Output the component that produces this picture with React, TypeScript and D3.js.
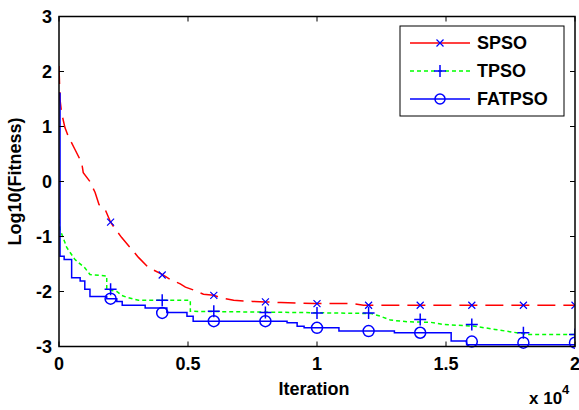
import React from "react";
import * as d3 from "d3";

// iteration (raw), log10(fitness)
const spsoLine: [number, number][] = [
  [0, 2.1], [40, 1.49], [100, 1.25], [230, 0.98], [360, 0.82], [600, 0.6],
  [880, 0.34], [940, 0.16], [1200, 0], [1400, -0.2], [1550, -0.42], [1790, -0.51],
  [2000, -0.74], [2100, -0.81], [2430, -1.02], [3080, -1.38], [3460, -1.56],
  [4000, -1.69], [4310, -1.78], [4700, -1.86], [4900, -1.92], [5200, -1.97],
  [5600, -2.05], [6000, -2.07], [6250, -2.11], [6770, -2.16], [7500, -2.18],
  [8000, -2.19], [8600, -2.2], [9900, -2.22], [11400, -2.22], [11800, -2.25],
  [20000, -2.25],
];

const tpsoLine: [number, number][] = [
  [0, -0.69], [40, -0.87], [230, -1.11], [300, -1.2], [620, -1.42], [1000, -1.57],
  [1200, -1.69], [1850, -1.72], [1850, -1.96], [2240, -2.0], [2430, -2.07],
  [2600, -2.1], [3080, -2.16], [5090, -2.16], [5090, -2.36], [9000, -2.38],
  [12100, -2.4], [12460, -2.45], [12850, -2.52], [13500, -2.55], [14400, -2.56],
  [14900, -2.6], [16100, -2.63], [16900, -2.69], [17600, -2.74], [18200, -2.78],
  [20000, -2.78],
];

// step changes (stepAfter)
const fatpsoSteps: [number, number][] = [
  [0, 1.6], [40, -1.36], [200, -1.42], [490, -1.75], [820, -1.81], [1000, -1.96],
  [1200, -2.09], [1850, -2.13], [2240, -2.18], [2450, -2.25], [3340, -2.3],
  [4180, -2.38], [4960, -2.45], [5200, -2.54], [8840, -2.57], [9230, -2.63],
  [9500, -2.66], [10850, -2.72], [13000, -2.75], [15200, -2.9], [15800, -2.97],
  [20000, -2.97],
];

const markerIters = [2000, 4000, 6000, 8000, 10000, 12000, 14000, 16000, 18000, 20000];
const spsoMarks = [-0.74, -1.7, -2.07, -2.19, -2.22, -2.25, -2.25, -2.25, -2.25, -2.25];
const tpsoMarks = [-1.96, -2.16, -2.36, -2.38, -2.39, -2.39, -2.51, -2.6, -2.75, -2.78];
const fatpsoMarks = [-2.13, -2.39, -2.54, -2.54, -2.66, -2.72, -2.75, -2.91, -2.93, -2.93];

const xTicks = [0, 5000, 10000, 15000, 20000];
const yTicks = [-3, -2, -1, 0, 1, 2, 3];
const legendNames = ["SPSO", "TPSO", "FATPSO"];

const FONT = "'Liberation Sans', Arial, sans-serif";

export default function App() {
  const width = 579;
  const height = 410;
  const left = 59, right = 575, top = 16.5, bottom = 346.5;

  const x = d3.scaleLinear().domain([0, 20000]).range([left, right]);
  const y = d3.scaleLinear().domain([-3, 3]).range([bottom, top]);

  const line = d3.line<[number, number]>().x((d) => x(d[0])).y((d) => y(d[1]));
  const stairs = d3
    .line<[number, number]>()
    .x((d) => x(d[0]))
    .y((d) => y(d[1]))
    .curve(d3.curveStepAfter);

  const cross = (cx: number, cy: number, s: number, k: string) => (
    <path key={k} d={`M${cx - s},${cy - s}L${cx + s},${cy + s}M${cx - s},${cy + s}L${cx + s},${cy - s}`} stroke="#0000ff" strokeWidth={1.2} fill="none" />
  );
  const plus = (cx: number, cy: number, s: number, k: string) => (
    <path key={k} d={`M${cx - s},${cy}L${cx + s},${cy}M${cx},${cy - s}L${cx},${cy + s}`} stroke="#0000ff" strokeWidth={1.5} fill="none" />
  );
  const ring = (cx: number, cy: number, r: number, k: string) => (
    <circle key={k} cx={cx} cy={cy} r={r} stroke="#0000ff" strokeWidth={1.5} fill="none" />
  );

  const legendStyles = [
    { color: "#ff0000", dash: "none" },
    { color: "#00ff00", dash: "4 3" },
    { color: "#0000ff", dash: "none" },
  ];

  return (
    <svg width={width} height={height} style={{ position: "absolute", left: 0, top: 0, background: "#fff" }}>
      <defs>
        <clipPath id="plotClip">
          <rect x={left} y={top - 10} width={right - left} height={bottom - top + 20} />
        </clipPath>
      </defs>

      <g clipPath="url(#plotClip)">
        <path d={line(spsoLine) ?? ""} fill="none" stroke="#ff0000" strokeWidth={1.5} strokeDasharray="18 8" />
        <path d={line(tpsoLine) ?? ""} fill="none" stroke="#00ff00" strokeWidth={1.5} strokeDasharray="4 3" />
        <path d={stairs(fatpsoSteps) ?? ""} fill="none" stroke="#0000ff" strokeWidth={1.5} />
        {markerIters.map((it, i) => cross(x(it), y(spsoMarks[i]), 3.5, `s${i}`))}
        {markerIters.map((it, i) => plus(x(it), y(tpsoMarks[i]), 6, `t${i}`))}
        {markerIters.map((it, i) => ring(x(it), y(fatpsoMarks[i]), 5.5, `f${i}`))}
      </g>

      {/* frame */}
      <rect x={left} y={top} width={right - left} height={bottom - top} fill="none" stroke="#000" strokeWidth={1.5} />

      {/* x ticks */}
      {xTicks.map((t) => (
        <g key={`xt${t}`}>
          <line x1={x(t)} x2={x(t)} y1={bottom} y2={bottom - 5} stroke="#000" />
          <line x1={x(t)} x2={x(t)} y1={top} y2={top + 5} stroke="#000" />
          <text x={x(t)} y={370} textAnchor="middle" fontFamily={FONT} fontWeight="bold" fontSize={18}>
            {d3.format("")(t / 10000)}
          </text>
        </g>
      ))}

      {/* y ticks */}
      {yTicks.map((t) => (
        <g key={`yt${t}`}>
          <line x1={left} x2={left + 5} y1={y(t)} y2={y(t)} stroke="#000" />
          <line x1={right} x2={right - 5} y1={y(t)} y2={y(t)} stroke="#000" />
          <text x={52} y={y(t)} dy="0.35em" textAnchor="end" fontFamily={FONT} fontWeight="bold" fontSize={18}>
            {t}
          </text>
        </g>
      ))}

      <text x={314} y={395} textAnchor="middle" fontFamily={FONT} fontWeight="bold" fontSize={18}>
        Iteration
      </text>
      <text x={529} y={404} fontFamily={FONT} fontWeight="bold" fontSize={17}>
        x 10
        <tspan dy={-10} fontSize={13}>4</tspan>
      </text>
      <text
        transform={`translate(21, ${(top + bottom) / 2}) rotate(-90)`}
        textAnchor="middle"
        fontFamily={FONT}
        fontWeight="bold"
        fontSize={18}
      >
        Log10(Fitness)
      </text>

      {/* legend */}
      <rect x={400} y={26} width={164} height={90} fill="#fff" stroke="#000" strokeWidth={1} />
      {legendNames.map((name, i) => {
        const ly = 43 + i * 28;
        const st = legendStyles[i];
        return (
          <g key={name}>
            <line x1={410} x2={470} y1={ly} y2={ly} stroke={st.color} strokeWidth={1.5} strokeDasharray={st.dash} />
            {i === 0 && cross(440, ly, 3.5, "lc")}
            {i === 1 && plus(440, ly, 6, "lp")}
            {i === 2 && ring(440, ly, 5, "lr")}
            <text x={477} y={ly} dy="0.36em" fontFamily={FONT} fontWeight="bold" fontSize={18}>
              {name}
            </text>
          </g>
        );
      })}
    </svg>
  );
}
